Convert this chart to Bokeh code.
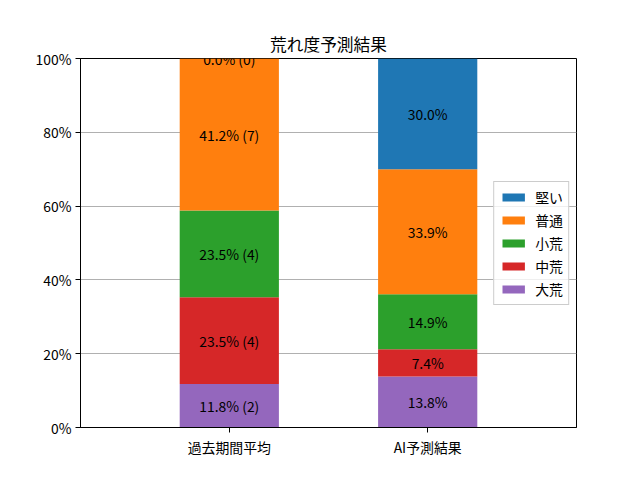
from bokeh.plotting import figure
from bokeh.models import ColumnDataSource, FixedTicker, Legend, LegendItem, LabelSet
from bokeh.core.properties import value
from bokeh.embed import file_html
from bokeh.resources import INLINE

categories = ["過去期間平均", "AI予測結果"]
levels = ["大荒", "中荒", "小荒", "普通", "堅い"]
colors = ["#9467bd", "#d62728", "#2ca02c", "#ff7f0e", "#1f77b4"]
pct_daikou = [11.8, 13.8]
pct_chukou = [23.5, 7.4]
pct_shoukou = [23.5, 14.9]
pct_futsuu = [41.2, 33.9]
pct_katai = [0.0, 30.0]
past_counts = [2, 4, 4, 7, 0]
y_ticks = [0, 20, 40, 60, 80, 100]

FONT = "Noto Sans CJK JP"
series = [pct_daikou, pct_chukou, pct_shoukou, pct_futsuu, pct_katai]

xs = list(range(len(categories)))
data = {"x": xs}
for lv, s in zip(levels, series):
    data[lv] = s
src = ColumnDataSource(data)

p = figure(width=624, height=464, output_backend="svg", toolbar_location=None,
           x_range=(-0.75, 1.75), y_range=(0, 100),
           min_border_left=80, min_border_right=48, min_border_top=58, min_border_bottom=37,
           title="荒れ度予測結果")
p.frame_width = 496
p.frame_height = 369

renderers = p.vbar_stack(levels, x="x", width=0.5, color=colors, source=src, line_width=0)

# labels
lx, ly, lt = [], [], []
for ci in range(len(categories)):
    bottom = 0.0
    for li, s in enumerate(series):
        v = s[ci]
        lx.append(xs[ci])
        ly.append(bottom + v / 2)
        if ci == 0:
            lt.append(f"{v:.1f}% ({past_counts[li]})")
        else:
            lt.append(f"{v:.1f}%")
        bottom += v
lsrc = ColumnDataSource(dict(x=lx, y=ly, t=lt))
labels = LabelSet(x="x", y="y", text="t", source=lsrc, text_align="center",
                  text_baseline="middle", text_font_size="13.9px", text_font=value(FONT),
                  text_color="black")
p.add_layout(labels)

items = [LegendItem(label=lv, renderers=[r]) for lv, r in zip(levels, renderers)]
legend = Legend(items=list(reversed(items)), location="center_right",
                label_text_font=FONT, label_text_font_size="13.9px", label_text_color="black",
                glyph_width=28, glyph_height=10, spacing=3, padding=5, margin=7,
                border_line_color="#cccccc", border_line_alpha=1, background_fill_alpha=0.8,
                label_standoff=8, label_height=17)
p.add_layout(legend)

p.title.align = "center"
p.title.text_font = FONT
p.title.text_font_size = "16.7px"
p.title.text_font_style = "normal"
p.title.text_color = "black"
p.title.standoff = 5

p.xaxis.ticker = FixedTicker(ticks=xs)
p.xaxis.major_label_overrides = {i: c for i, c in zip(xs, categories)}
p.yaxis.ticker = FixedTicker(ticks=y_ticks)
p.yaxis.major_label_overrides = {t: f"{t}%" for t in y_ticks}
for ax in (p.xaxis, p.yaxis):
    ax.major_label_text_font = FONT
    ax.major_label_text_font_size = "13.9px"
    ax.major_label_text_color = "black"
    ax.major_tick_out = 5
    ax.major_tick_in = 0
    ax.minor_tick_line_color = None
    ax.axis_line_color = "black"
    ax.major_tick_line_color = "black"
    ax.major_label_standoff = 4

p.xgrid.grid_line_color = None
p.ygrid.grid_line_color = "#b0b0b0"
p.ygrid.grid_line_width = 1.1
p.ygrid.ticker = FixedTicker(ticks=y_ticks)
p.outline_line_color = "black"
p.outline_line_alpha = 1
p.outline_line_width = 1

open("out.html", "w").write(file_html(p, INLINE))
